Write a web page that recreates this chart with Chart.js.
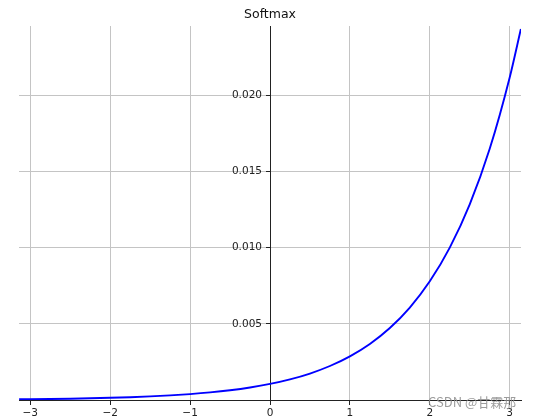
<!DOCTYPE html>
<html>
<head>
<meta charset="utf-8">
<script src="https://cdn.jsdelivr.net/npm/chart.js@4"></script>
<style>
  body { margin: 0; background: #fff; }
  #wrap { position: relative; width: 542px; height: 420px; }
  #mark {
    position: absolute; left: 428px; top: 394px;
    font: 13px "Noto Sans CJK SC", "DejaVu Sans", sans-serif;
    color: rgba(140, 140, 140, 0.85); white-space: nowrap; line-height: 16px;
  }
</style>
</head>
<body>
<div id="wrap">
  <canvas id="grafico"></canvas>
  <div id="mark">CSDN @甘霖那</div>
</div>
<script>
/* valores */
const xs = [-3.14, -3.0, -2.75, -2.5, -2.25, -2.0, -1.75, -1.5, -1.25, -1.0, -0.75, -0.5, -0.25,
  0, 0.25, 0.5, 0.75, 1.0, 1.25, 1.5, 1.75, 2.0, 2.25, 2.5, 2.75, 3.0, 3.14];
const ys = [0.0000456, 0.0000525, 0.0000674, 0.0000865, 0.000111, 0.000143, 0.000183, 0.000235,
  0.000302, 0.000388, 0.000498, 0.000639, 0.000821, 0.001054, 0.001353, 0.001737, 0.002231,
  0.002864, 0.003678, 0.004723, 0.006064, 0.007786, 0.009998, 0.012837, 0.016483, 0.021165, 0.024346];
const xTicks = [-3, -2, -1, 0, 1, 2, 3];
const yTicks = [0.005, 0.010, 0.015, 0.020];

const pontos = xs.map((x, i) => ({ x: x, y: ys[i] }));
const fonte = { family: "DejaVu Sans", size: 10.5 };

/* eixo y no centro: empurra os rótulos para a esquerda da marca */
function deslocarRotulos(s) {
  const orig = Object.getPrototypeOf(s)._computeLabelItems;
  if (!orig || s._deslocado) return;
  s._deslocado = true;
  s._computeLabelItems = function (area) {
    const itens = orig.call(this, area);
    itens.forEach(it => { if (it.options && it.options.translation) it.options.translation[0] -= 8; });
    return itens;
  };
}

const config = {
  type: "line",
  data: {
    datasets: [{
      data: pontos,
      borderColor: "#0000ff",
      borderWidth: 1.9,
      pointRadius: 0,
      fill: false,
      cubicInterpolationMode: "monotone",
    }],
  },
  options: {
    responsive: true,
    maintainAspectRatio: false,
    animation: false,
    layout: { padding: { left: 19, right: 21, top: 0, bottom: 20 } },
    plugins: {
      legend: { display: false },
      tooltip: { enabled: false },
      title: {
        display: true,
        text: "Softmax",
        color: "#111",
        font: { family: "DejaVu Sans", size: 12.5, weight: "normal" },
        padding: { top: 7, bottom: 4 },
      },
    },
    scales: {
      x: {
        type: "linear",
        min: -3.14159,
        max: 3.14159,
        position: { y: 0 },
        afterBuildTicks: (s) => { s.ticks = xTicks.map(v => ({ value: v })); },
        ticks: {
          color: "#222",
          font: fonte,
          padding: 3,
          maxRotation: 0,
          callback: (v) => String(v).replace("-", "\u2212"),
        },
        grid: { color: "#c4c4c4", lineWidth: 1, tickColor: "#222", tickLength: 4 },
        border: { color: "#222", width: 1 },
      },
      y: {
        min: 0,
        max: 0.02454,
        position: { x: 0 },
        afterUpdate: deslocarRotulos,
        afterBuildTicks: (s) => { s.ticks = yTicks.map(v => ({ value: v })); },
        ticks: {
          color: "#222",
          font: fonte,
          padding: 2,
          callback: (v) => v.toFixed(3),
        },
        grid: { color: "#c4c4c4", lineWidth: 1, tickColor: "#222", tickLength: 4 },
        border: { color: "#222", width: 1 },
      },
    },
  },
};
const myChart = new Chart(document.getElementById("grafico"), config);
</script>
</body>
</html>
